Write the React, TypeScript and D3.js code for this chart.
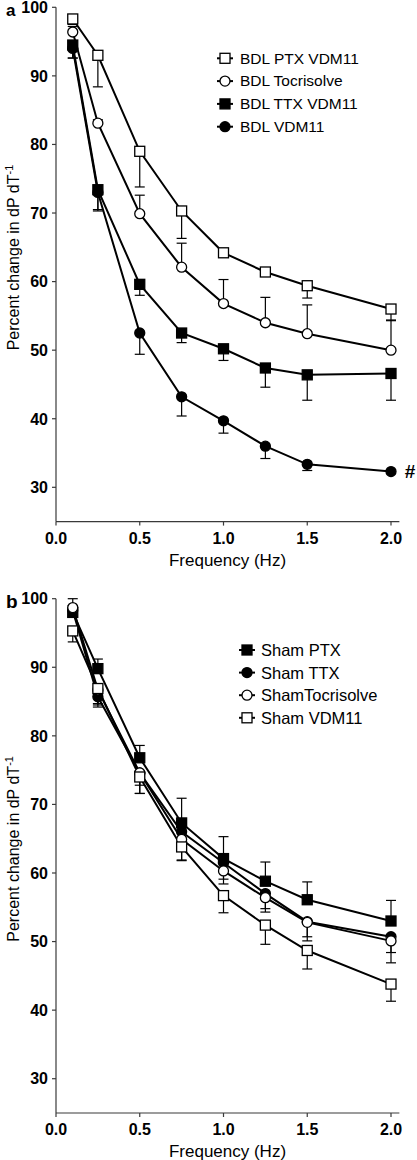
import React from "react";
import * as d3 from "d3";

// ---------- DATA ----------
const freqs = [0.1, 0.25, 0.5, 0.75, 1.0, 1.25, 1.5, 2.0];
const xTicks = [0, 0.5, 1.0, 1.5, 2.0];
const yTicks = [30, 40, 50, 60, 70, 80, 90, 100];

// Panel a (signed SEM: + drawn up, - drawn down)
const bdlPtxVdm = [98.3, 93.0, 79.0, 70.3, 64.2, 61.4, 59.4, 56.0];
const bdlPtxVdmErr = [-0.8, -4.6, -5.2, -4.0, -0.5, -0.5, -1.8, -1.7];
const bdlToc = [96.4, 83.1, 69.9, 62.1, 56.8, 54.0, 52.4, 50.0];
const bdlTocErr = [0.8, 0.5, 2.7, 3.5, 3.5, 3.7, 4.2, 4.4];
const bdlTtxVdm = [94.5, 73.4, 59.6, 52.5, 50.2, 47.4, 46.4, 46.6];
const bdlTtxVdmErr = [-1.9, -3.1, -1.6, -1.4, -1.7, -2.8, -3.7, -3.9];
const bdlVdm = [94.0, 73.0, 52.5, 43.2, 39.7, 36.0, 33.35, 32.3];
const bdlVdmErr = [-1.4, -2.5, -3.1, -2.8, -1.8, -1.8, -0.9, -0.3];

// Panel b
const shamPtx = [98.0, 89.8, 76.8, 67.3, 62.1, 58.8, 56.1, 53.0];
const shamPtxErr = [1.0, 1.4, 1.8, 3.6, 3.2, 2.8, 2.6, 3.0];
const shamTtx = [98.3, 85.7, 74.6, 66.0, 61.5, 57.0, 52.9, 50.7];
const shamTtxErr = [-1.0, -1.5, -1.8, -2.0, -2.4, -2.2, -2.2, -2.3];
const shamToc = [98.7, 86.7, 74.6, 64.9, 60.3, 56.4, 52.8, 50.1];
const shamTocErr = [1.3, -2.0, -3.0, -3.0, -1.9, -2.1, -2.7, -3.2];
const shamVdm = [95.3, 86.9, 74.0, 63.8, 56.7, 52.4, 48.7, 43.8];
const shamVdmErr = [-1.6, -2.4, -2.4, -2.0, -2.5, -2.8, -2.7, -2.5];

const panelA = [
  { name: "BDL PTX VDM11", shape: "square", filled: false, values: bdlPtxVdm, err: bdlPtxVdmErr },
  { name: "BDL Tocrisolve", shape: "circle", filled: false, values: bdlToc, err: bdlTocErr },
  { name: "BDL TTX VDM11", shape: "square", filled: true, values: bdlTtxVdm, err: bdlTtxVdmErr },
  { name: "BDL VDM11", shape: "circle", filled: true, values: bdlVdm, err: bdlVdmErr },
];
const panelB = [
  { name: "Sham PTX", shape: "square", filled: true, values: shamPtx, err: shamPtxErr },
  { name: "Sham TTX", shape: "circle", filled: true, values: shamTtx, err: shamTtxErr },
  { name: "ShamTocrisolve", shape: "circle", filled: false, values: shamToc, err: shamTocErr },
  { name: "Sham VDM11", shape: "square", filled: false, values: shamVdm, err: shamVdmErr },
];

const FONT = "'Liberation Sans', Arial, Helvetica, sans-serif";
const AXIS = "#3a3a3a";

function Marker({ shape, filled, cx, cy }: any) {
  const fill = filled ? "#000" : "#fff";
  if (shape === "square") {
    return <rect x={cx - 5} y={cy - 5} width={10} height={10} fill={fill} stroke="#000" strokeWidth={1.3} />;
  }
  return <circle cx={cx} cy={cy} r={5} fill={fill} stroke="#000" strokeWidth={1.3} />;
}

function Panel({ top, series, label, legend, hash }: any) {
  const x = d3.scaleLinear().domain([0, 2]).range([56, 391]);
  const y = d3.scaleLinear().domain([25, 100]).range([top + 514.3, top]);
  const line = d3
    .line<number>()
    .x((_, i) => x(freqs[i]))
    .y((v) => y(v));
  const yBottom = y(25);
  return (
    <g>
      {/* axes */}
      <line x1={56} x2={56} y1={y(100)} y2={yBottom} stroke={AXIS} strokeWidth={1.2} />
      <line x1={56} x2={x(2.05)} y1={yBottom} y2={yBottom} stroke={AXIS} strokeWidth={1.2} />
      {yTicks.map((t) => (
        <g key={"y" + t}>
          <line x1={52} x2={56} y1={y(t)} y2={y(t)} stroke={AXIS} strokeWidth={1.2} />
          <text x={48} y={y(t)} dy="0.36em" textAnchor="end" fontSize={16} fontWeight="bold" fontFamily={FONT}>
            {t}
          </text>
        </g>
      ))}
      {xTicks.map((t) => (
        <g key={"x" + t}>
          <line x1={x(t)} x2={x(t)} y1={yBottom} y2={yBottom + 4} stroke={AXIS} strokeWidth={1.2} />
          <text x={x(t)} y={yBottom + 22} textAnchor="middle" fontSize={16} fontWeight="bold" fontFamily={FONT}>
            {t.toFixed(1)}
          </text>
        </g>
      ))}
      <text x={227.5} y={yBottom + 44} textAnchor="middle" fontSize={17} fontFamily={FONT}>
        Frequency (Hz)
      </text>
      <text
        transform={`translate(18.5, ${top + 343}) rotate(-90)`}
        textAnchor="start"
        fontSize={16}
        fontFamily={FONT}
      >
        Percent change in dP dT
        <tspan fontSize={11} dy={-6}>
          -1
        </tspan>
      </text>
      <text x={6} y={top + (label === "a" ? 9 : 9.5)} fontSize={label === "a" ? 17 : 19} fontWeight="bold" fontFamily={FONT}>
        {label}
      </text>

      {/* error bars */}
      {series.map((s: any, si: number) =>
        s.values.map((v: number, i: number) => {
          const e = s.err[i];
          const cx = x(freqs[i]);
          const y2 = y(v + e);
          return (
            <g key={`e${si}-${i}`}>
              <line x1={cx} x2={cx} y1={y(v)} y2={y2} stroke="#000" strokeWidth={1.2} />
              <line x1={cx - 5} x2={cx + 5} y1={y2} y2={y2} stroke="#000" strokeWidth={1.2} />
            </g>
          );
        })
      )}
      {/* lines */}
      {series.map((s: any, si: number) => (
        <path key={"l" + si} d={line(s.values) || ""} fill="none" stroke="#000" strokeWidth={2} />
      ))}
      {/* markers */}
      {series.map((s: any, si: number) =>
        s.values.map((v: number, i: number) => (
          <Marker key={`m${si}-${i}`} shape={s.shape} filled={s.filled} cx={x(freqs[i])} cy={y(v)} />
        ))
      )}
      {hash && (
        <text x={410} y={y(bdlVdm[7])} dy="0.36em" textAnchor="middle" fontSize={19} fontWeight="bold" fontFamily={FONT}>
          #
        </text>
      )}
      {/* legend */}
      {series.map((s: any, si: number) => {
        const cy = legend.y0 + si * legend.dy;
        return (
          <g key={"lg" + si}>
            <line x1={legend.mx - 8} x2={legend.mx + 8} y1={cy} y2={cy} stroke="#000" strokeWidth={2} />
            <Marker shape={s.shape} filled={s.filled} cx={legend.mx} cy={cy} />
            <text x={legend.tx} y={cy + legend.base} fontSize={legend.fs} fontFamily={FONT}>
              {s.name}
            </text>
          </g>
        );
      })}
    </g>
  );
}

export default function App() {
  return (
    <svg
      width={417}
      height={1160}
      style={{ position: "absolute", left: 0, top: 0, background: "#fff" }}
    >
      <rect width={417} height={1160} fill="#fff" />
      <Panel
        top={7.3}
        series={panelA}
        label="a"
        hash
        legend={{ mx: 225, tx: 240, y0: 58.3, dy: 22.8, fs: 15.5, base: 5.3 }}
      />
      <Panel
        top={598.7}
        series={panelB}
        label="b"
        legend={{ mx: 247, tx: 261, y0: 650, dy: 22.6, fs: 16.5, base: 6 }}
      />
    </svg>
  );
}
